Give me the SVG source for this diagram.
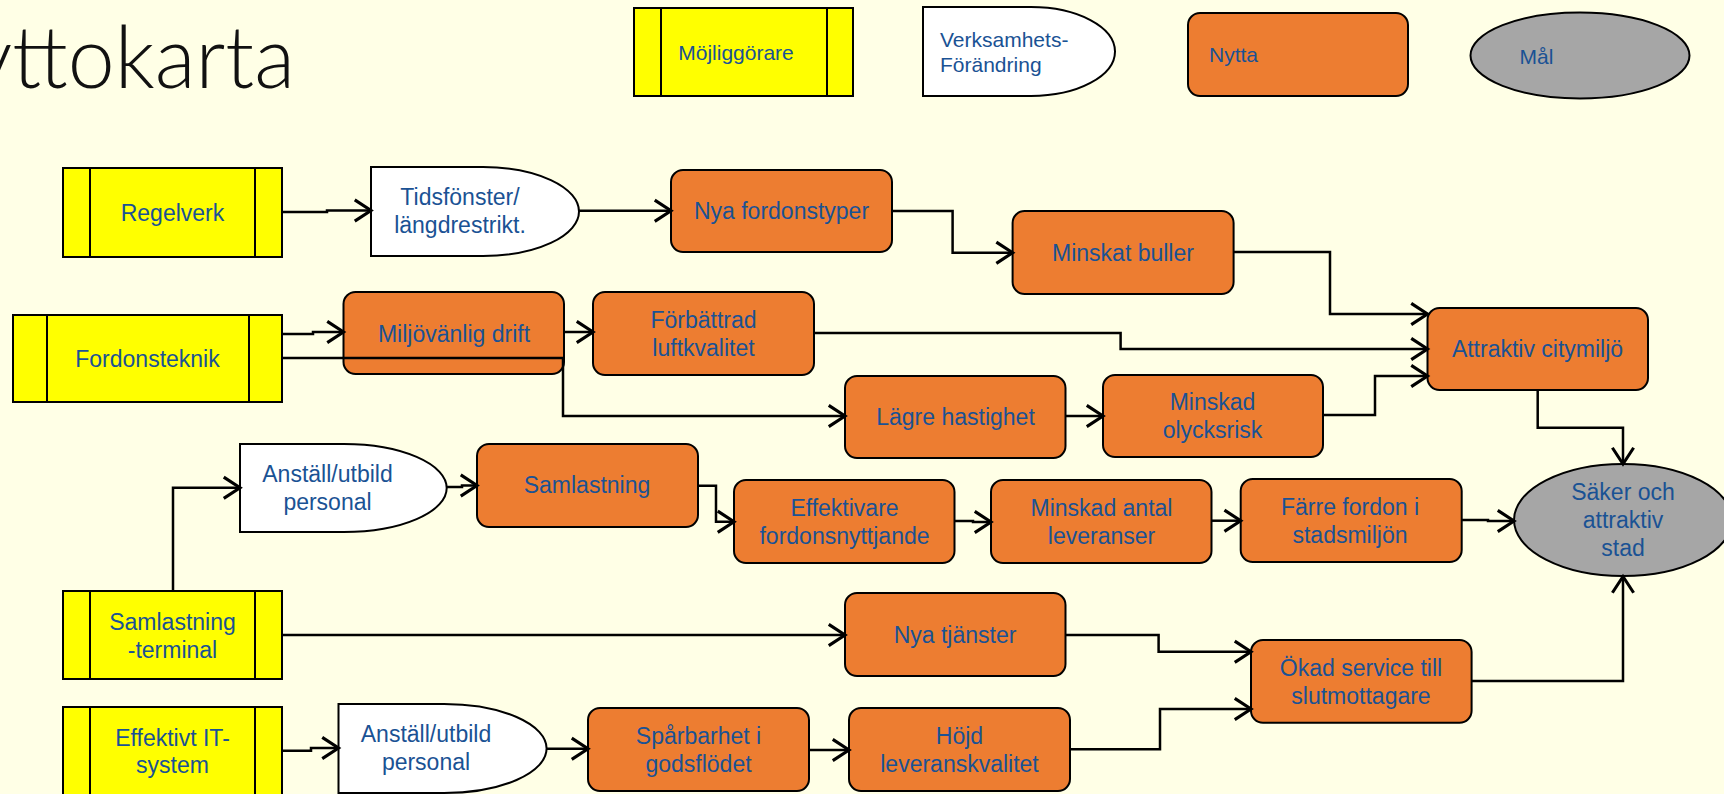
<svg xmlns="http://www.w3.org/2000/svg" width="1724" height="794" viewBox="0 0 1724 794">
<defs>
<marker id="arr" markerUnits="userSpaceOnUse" markerWidth="30" markerHeight="30" refX="0" refY="0" viewBox="-16 -12 20 24" orient="auto" overflow="visible">
<path d="M-13,-8.5 L0,0 L-13,8.5" fill="none" stroke="#000" stroke-width="2.5" stroke-linejoin="miter"/>
</marker>
<style>
.bg{fill:#FFFFE6}
.en{fill:#FFFF00;stroke:#000;stroke-width:2}
.vf{fill:#FFFFFF;stroke:#000;stroke-width:2}
.ny{fill:#ED7D31;stroke:#000;stroke-width:2}
.ma{fill:#A6A6A6;stroke:#000;stroke-width:2}
.ln{fill:none;stroke:#000;stroke-width:2}
.t{font-family:"Liberation Sans",Arial,sans-serif;font-size:23px;fill:#1A5294;text-anchor:middle}
.tl{font-family:"Liberation Sans",Arial,sans-serif;font-size:21px;fill:#1A5294}
.c{fill:none;stroke:#000;stroke-width:2.5;marker-end:url(#arr)}
.title{font-family:Lato,"Open Sans","Liberation Sans",sans-serif;font-weight:300;font-size:86px;fill:#111}
</style>
</defs>
<rect class="bg" x="0" y="0" width="1724" height="794"/>
<text class="title" x="-30" y="88" textLength="325" lengthAdjust="spacingAndGlyphs">yttokarta</text>

<g id="legend-mojliggorare">
<rect class="en" x="634" y="8" width="219" height="88"/>
<line class="ln" x1="661" y1="8" x2="661" y2="96"/>
<line class="ln" x1="827" y1="8" x2="827" y2="96"/>
<text class="tl" x="736" y="59.5" text-anchor="middle">Möjliggörare</text>
</g>
<g id="legend-verksamhet">
<path class="vf" d="M923,7 H1031 A84,44.5 0 0 1 1031,96 H923 Z"/>
<text class="tl" x="940" y="47">Verksamhets-</text>
<text class="tl" x="940" y="72">Förändring</text>
</g>
<g id="legend-nytta">
<rect class="ny" x="1188" y="13" width="220" height="83" rx="12"/>
<text class="tl" x="1209" y="62">Nytta</text>
</g>
<g id="legend-mal">
<ellipse class="ma" cx="1580" cy="55.5" rx="109.5" ry="43"/>
<text class="tl" x="1519.5" y="64">Mål</text>
</g>

<g id="regelverk">
<rect class="en" x="63" y="168" width="219" height="89"/>
<line class="ln" x1="90" y1="168" x2="90" y2="257"/>
<line class="ln" x1="255" y1="168" x2="255" y2="257"/>
<text class="t" x="172.5" y="221">Regelverk</text>
</g>
<g id="fordonsteknik">
<rect class="en" x="13" y="315" width="269" height="87"/>
<line class="ln" x1="47" y1="315" x2="47" y2="402"/>
<line class="ln" x1="249" y1="315" x2="249" y2="402"/>
<text class="t" x="147.5" y="366.5">Fordonsteknik</text>
</g>
<g id="samlastning-terminal">
<rect class="en" x="63" y="591" width="219" height="88"/>
<line class="ln" x1="90" y1="591" x2="90" y2="679"/>
<line class="ln" x1="255" y1="591" x2="255" y2="679"/>
<text class="t" x="172.5" y="630">Samlastning</text>
<text class="t" x="172.5" y="657.5">-terminal</text>
</g>
<g id="effektivt-it">
<rect class="en" x="63" y="707" width="219" height="89"/>
<line class="ln" x1="90" y1="707" x2="90" y2="796"/>
<line class="ln" x1="255" y1="707" x2="255" y2="796"/>
<text class="t" x="172.5" y="745.5">Effektivt IT-</text>
<text class="t" x="172.5" y="772.5">system</text>
</g>

<g id="tidsfonster">
<path class="vf" d="M371,167 H483 A96,44.5 0 0 1 483,256 H371 Z"/>
<text class="t" x="460" y="205">Tidsfönster/</text>
<text class="t" x="460" y="233">längdrestrikt.</text>
</g>
<g id="anstall-1">
<path class="vf" d="M240,444 H344 A102.7,44 0 0 1 344,532 H240 Z"/>
<text class="t" x="327.5" y="482">Anställ/utbild</text>
<text class="t" x="327.5" y="510">personal</text>
</g>
<g id="anstall-2">
<path class="vf" d="M338.5,704 H444 A102.6,44.5 0 0 1 444,793 H338.5 Z"/>
<text class="t" x="426" y="742">Anställ/utbild</text>
<text class="t" x="426" y="770">personal</text>
</g>

<g id="nya-fordonstyper">
<rect class="ny" x="671" y="170" width="221" height="82" rx="12"/>
<text class="t" x="781.5" y="219">Nya fordonstyper</text>
</g>
<g id="minskat-buller">
<rect class="ny" x="1012.6" y="211" width="221" height="83" rx="12"/>
<text class="t" x="1123" y="260.5">Minskat buller</text>
</g>
<g id="miljovanlig-drift">
<rect class="ny" x="343.5" y="292" width="220.5" height="82" rx="12"/>
<text class="t" x="454" y="341.5">Miljövänlig drift</text>
</g>
<g id="forbattrad-luftkvalitet">
<rect class="ny" x="593" y="292" width="221" height="83" rx="12"/>
<text class="t" x="703.5" y="327.5">Förbättrad</text>
<text class="t" x="703.5" y="356">luftkvalitet</text>
</g>
<g id="attraktiv-citymiljo">
<rect class="ny" x="1427.5" y="308" width="220.5" height="82" rx="12"/>
<text class="t" x="1537.5" y="357">Attraktiv citymiljö</text>
</g>
<g id="lagre-hastighet">
<rect class="ny" x="845" y="376" width="220.5" height="82" rx="12"/>
<text class="t" x="955.5" y="425">Lägre hastighet</text>
</g>
<g id="minskad-olycksrisk">
<rect class="ny" x="1103" y="375" width="220" height="82" rx="12"/>
<text class="t" x="1212.5" y="410">Minskad</text>
<text class="t" x="1212.5" y="437.5">olycksrisk</text>
</g>
<g id="samlastning">
<rect class="ny" x="477" y="444" width="221" height="83" rx="12"/>
<text class="t" x="587" y="493">Samlastning</text>
</g>
<g id="effektivare">
<rect class="ny" x="734" y="480" width="220.5" height="83" rx="12"/>
<text class="t" x="844.5" y="516">Effektivare</text>
<text class="t" x="844.5" y="544">fordonsnyttjande</text>
</g>
<g id="minskad-antal">
<rect class="ny" x="991" y="480" width="220.5" height="83" rx="12"/>
<text class="t" x="1101.5" y="515.5">Minskad antal</text>
<text class="t" x="1101.5" y="543.5">leveranser</text>
</g>
<g id="farre-fordon">
<rect class="ny" x="1240.7" y="479" width="221" height="83" rx="12"/>
<text class="t" x="1350" y="515">Färre fordon i</text>
<text class="t" x="1350" y="543">stadsmiljön</text>
</g>
<g id="saker-stad">
<ellipse class="ma" cx="1623" cy="520" rx="109" ry="56"/>
<text class="t" x="1623" y="500">Säker och</text>
<text class="t" x="1623" y="528">attraktiv</text>
<text class="t" x="1623" y="556">stad</text>
</g>
<g id="nya-tjanster">
<rect class="ny" x="845" y="593" width="220.5" height="83" rx="12"/>
<text class="t" x="955" y="643">Nya tjänster</text>
</g>
<g id="okad-service">
<rect class="ny" x="1251" y="640" width="220.6" height="82.7" rx="12"/>
<text class="t" x="1361" y="676">Ökad service till</text>
<text class="t" x="1361" y="703.5">slutmottagare</text>
</g>
<g id="sparbarhet">
<rect class="ny" x="588" y="708" width="221" height="83" rx="12"/>
<text class="t" x="698.5" y="744">Spårbarhet i</text>
<text class="t" x="698.5" y="771.5">godsflödet</text>
</g>
<g id="hojd-leveranskvalitet">
<rect class="ny" x="849" y="708" width="221" height="83" rx="12"/>
<text class="t" x="959.5" y="744">Höjd</text>
<text class="t" x="959.5" y="771.5">leveranskvalitet</text>
</g>

<g id="connectors">
<path class="c" d="M282,212 H327 V210.5 H371"/>
<path class="c" d="M579,210.7 H671"/>
<path class="c" d="M892,211 H952.6 V252.7 H1012.6"/>
<path class="c" d="M1233.6,252 H1330 V314 H1427.5"/>
<path class="c" d="M282,334 H313 V332 H343.5"/>
<path class="c" d="M282,358 H563 V416 H845"/>
<path class="c" d="M564,332 H593"/>
<path class="c" d="M814,333 H1120.6 V349 H1427.5"/>
<path class="c" d="M1065.5,416 H1103"/>
<path class="c" d="M1323,415 H1375 V376 H1427.5"/>
<path class="c" d="M1537.7,390 V427.7 H1623 V464"/>
<path class="c" d="M173,591 V487.7 H240"/>
<path class="c" d="M447,487 H462 V485.5 H477"/>
<path class="c" d="M698,485.7 H716 V521.7 H734"/>
<path class="c" d="M954.5,521 H973 V522 H991"/>
<path class="c" d="M1211.5,520.7 H1240.7"/>
<path class="c" d="M1461.7,520 H1488 V521 H1514"/>
<path class="c" d="M282,635 H845"/>
<path class="c" d="M1065.5,635 H1158.6 V651.7 H1251"/>
<path class="c" d="M282,750.7 H311 V748 H338.5"/>
<path class="c" d="M546.6,748.7 H588"/>
<path class="c" d="M809,750 H849"/>
<path class="c" d="M1070,749.3 H1160 V709 H1251"/>
<path class="c" d="M1471.6,681 H1623 V576.5"/>
</g>
</svg>
